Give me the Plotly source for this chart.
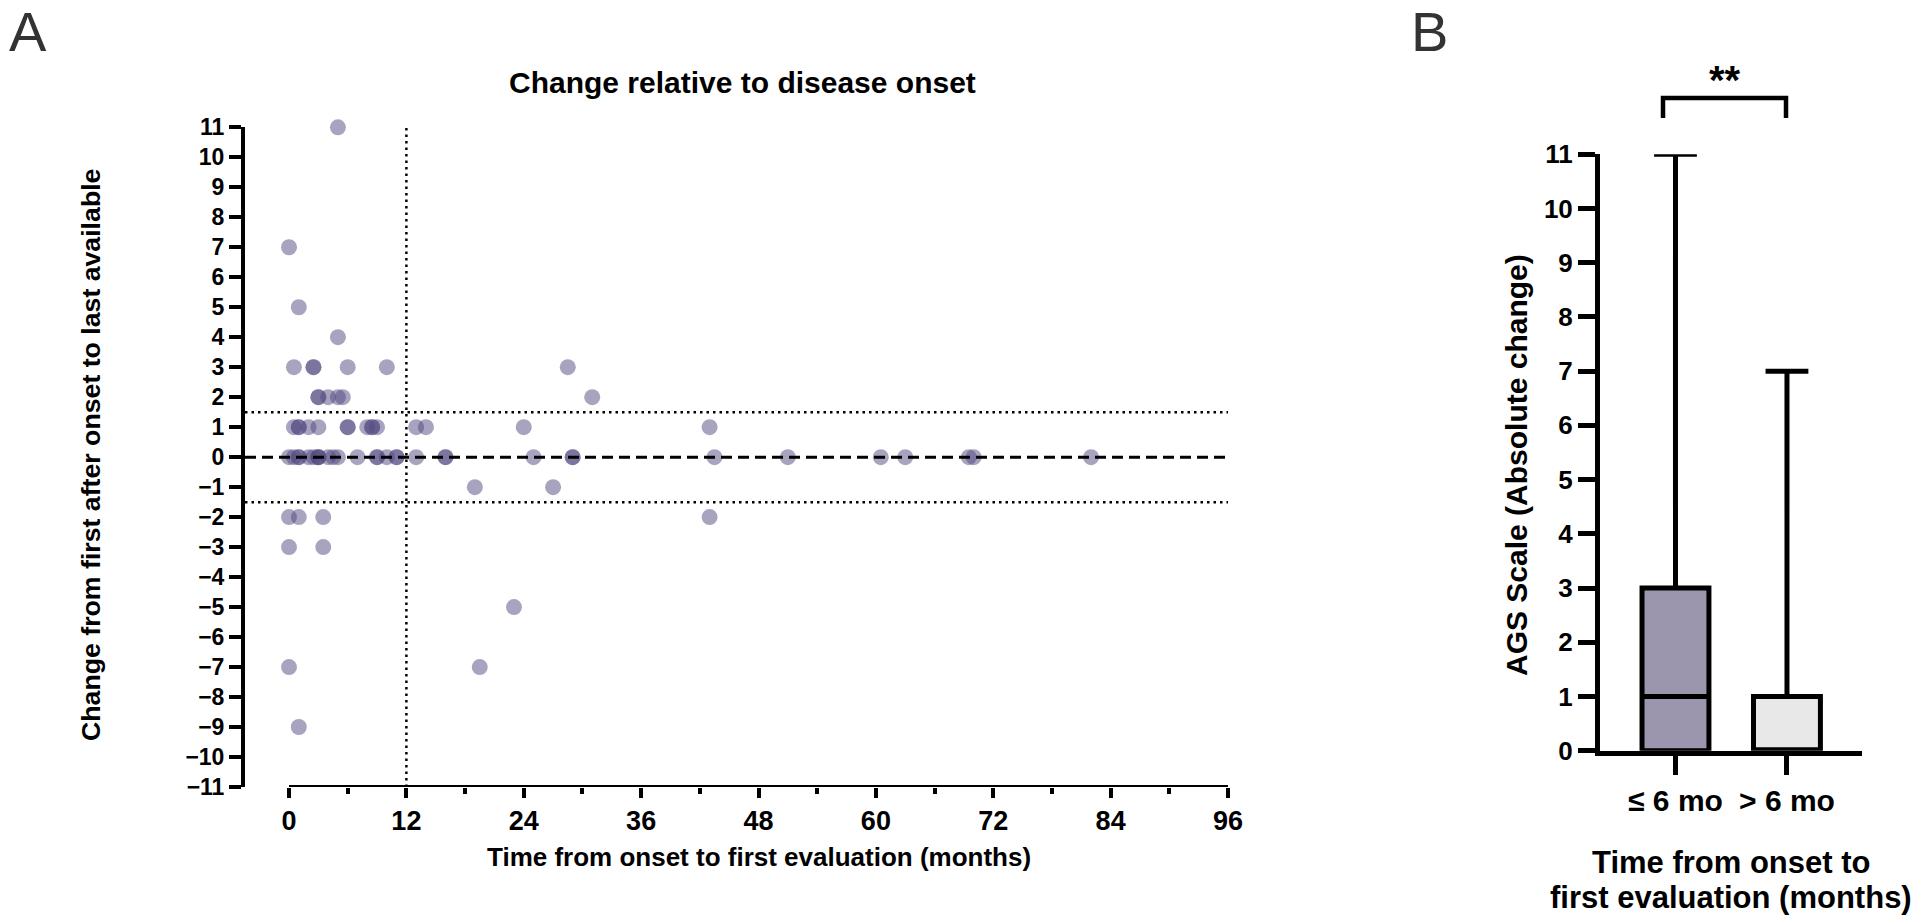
import plotly.graph_objects as go

# ---------------- Data: panel A (scatter) ----------------
months = [5, 0, 1, 5,
          0.5, 2.5, 2.5, 6, 10, 28.5,
          3, 3, 4, 5, 5.5, 31,
          0.5, 1, 1, 2, 3, 6, 6, 8, 8.5, 8.5, 9, 13, 14, 24, 43,
          0, 0.5, 1, 1, 2, 2.5, 3, 3, 3, 4, 4.5, 5, 7, 9, 9, 10, 11, 11, 13, 16, 16,
          25, 29, 29, 43.5, 51, 60.5, 63, 69.5, 70, 82,
          19, 27,
          0, 1, 3.5, 43,
          0, 3.5,
          23,
          0, 19.5,
          1]
changes = [11, 7, 5, 4,
           3, 3, 3, 3, 3, 3,
           2, 2, 2, 2, 2, 2,
           1, 1, 1, 1, 1, 1, 1, 1, 1, 1, 1, 1, 1, 1, 1,
           0, 0, 0, 0, 0, 0, 0, 0, 0, 0, 0, 0, 0, 0, 0, 0, 0, 0, 0, 0, 0,
           0, 0, 0, 0, 0, 0, 0, 0, 0, 0,
           -1, -1,
           -2, -2, -2, -2,
           -3, -3,
           -5,
           -7, -7,
           -9]
x_ticks_A = [0, 12, 24, 36, 48, 60, 72, 84, 96]
x_minor_A = [6, 18, 30, 42, 54, 66, 78, 90]
y_ticks_A = list(range(-11, 12))
threshold_month = 12
threshold_change = 1.5

# ---------------- Data: panel B (box plot) ----------------
groups = ["≤ 6 mo", "> 6 mo"]
q1 = [0, 0]
medians = [1, 0]
q3 = [3, 1]
mins = [0, 0]
maxs = [11, 7]
y_ticks_B = list(range(0, 12))
box_colors = ["#9b95ae", "#e8e8e8"]

W, H = 1920, 924
def px(x):
    return x / W
def py(y):
    return 1 - y / H

ARIAL = "Liberation Sans, Arial"

fig = go.Figure()

fig.add_trace(go.Scatter(
    x=months, y=changes, mode="markers",
    marker=dict(size=16, color="rgba(82,72,128,0.5)", line=dict(width=0)),
    cliponaxis=False, showlegend=False, xaxis="x", yaxis="y"))

for i, g in enumerate(groups):
    fig.add_trace(go.Box(
        x=[i + 1], q1=[q1[i]], median=[medians[i]], q3=[q3[i]],
        lowerfence=[mins[i]], upperfence=[maxs[i]],
        width=0.6, whiskerwidth=0.64, fillcolor=box_colors[i],
        line=dict(color="black", width=5), boxpoints=False,
        showlegend=False, xaxis="x2", yaxis="y2"))

common = dict(showgrid=False, zeroline=False, automargin=False)
fig.update_layout(
    template="none",
    width=W, height=H, margin=dict(l=0, r=0, t=0, b=0, autoexpand=False),
    paper_bgcolor="white", plot_bgcolor="white",
    xaxis=dict(domain=[px(245), px(1228)], range=[-4.5, 96], anchor="y",
               tickvals=x_ticks_A, ticks="outside", ticklen=10, tickwidth=4,
               tickcolor="black", showline=False,
               minor=dict(tickvals=x_minor_A, ticks="outside", ticklen=6,
                          tickwidth=4, tickcolor="black", showgrid=False),
               tickfont=dict(family=ARIAL, size=27, color="black", weight="bold"),
               **common),
    yaxis=dict(domain=[py(787), py(127.3)], range=[-11, 11], anchor="x",
               tickvals=y_ticks_A, ticks="outside", ticklen=12, tickwidth=4,
               tickcolor="black", showline=True, linewidth=4, linecolor="black",
               tickfont=dict(family=ARIAL, size=23, color="black", weight="bold"),
               **common),
    xaxis2=dict(domain=[px(1600), px(1862)], range=[0.323, 2.673], anchor="y2",
                tickvals=[1, 2], ticktext=groups, ticks="outside", ticklen=19,
                tickwidth=5, tickcolor="black", showline=True, linewidth=5,
                linecolor="black",
                tickfont=dict(family=ARIAL, size=30, color="black", weight="bold"),
                **common),
    yaxis2=dict(domain=[py(750.7), py(154.3)], range=[0, 11], anchor="x2",
                tickvals=y_ticks_B, ticks="outside", ticklen=17, tickwidth=5,
                tickcolor="black", showline=True, linewidth=5, linecolor="black",
                tickfont=dict(family=ARIAL, size=26, color="black", weight="bold"),
                **common),
)

shapes = []
# x axis line of panel A (from 0 to 96)
shapes.append(dict(type="line", xref="x", yref="y", x0=0, x1=96, y0=-11, y1=-11,
                   line=dict(color="black", width=4)))
# dashed zero line
shapes.append(dict(type="line", xref="x", yref="y", x0=-4.5, x1=96, y0=0, y1=0,
                   line=dict(color="black", width=3, dash="11px,6px")))
# dotted thresholds
for v in (threshold_change, -threshold_change):
    shapes.append(dict(type="line", xref="x", yref="y", x0=-4.5, x1=96, y0=v, y1=v,
                       line=dict(color="black", width=2.5, dash="2.5px,4px")))
shapes.append(dict(type="line", xref="x", yref="y", x0=threshold_month, x1=threshold_month,
                   y0=-11, y1=11, line=dict(color="black", width=2.5, dash="2.5px,4px")))
# significance bracket in panel B
shapes.append(dict(type="path", xref="paper", yref="paper",
                   path=f"M {px(1663)} {py(118)} L {px(1663)} {py(98)} L {px(1786)} {py(98)} L {px(1786)} {py(118)}",
                   line=dict(color="black", width=4.5)))
fig.update_layout(shapes=shapes)


def label(text, x, y, size, bold=True, angle=0, color="black"):
    f = dict(family=ARIAL, size=size, color=color)
    if bold:
        f["weight"] = "bold"
    return dict(text=text, x=px(x), y=py(y), xref="paper", yref="paper",
                showarrow=False, xanchor="center", yanchor="middle",
                textangle=angle, font=f)

ann = [
    label("A", 28, 31, 56, bold=False, color="#333333"),
    label("B", 1429, 31, 56, bold=False, color="#333333"),
    label("Change relative to disease onset", 742, 83, 30),
    label("Change from first after onset to last available", 91, 455, 26.7, angle=-90),
    label("Time from onset to first evaluation (months)", 759, 857, 26),
    label("AGS Scale (Absolute change)", 1516, 465, 30, angle=-90),
    label("Time from onset to", 1731, 862, 31),
    label("first evaluation (months)", 1731, 897, 31),
    label("**", 1725, 80, 40),
]
fig.update_layout(annotations=ann)

fig.write_html("out.html", config={"displayModeBar": False},
               post_script="document.body.style.margin='0px';")
